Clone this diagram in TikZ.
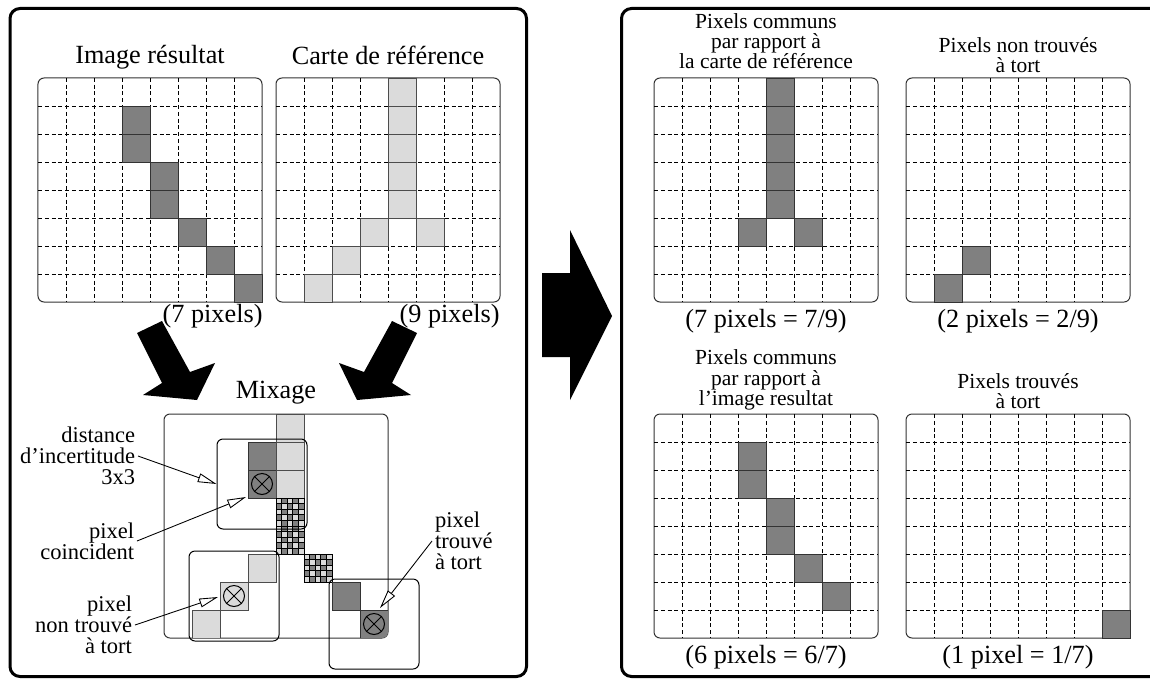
\documentclass[tikz,border=0pt]{standalone}
\usepackage{fontspec}
\setmainfont{Liberation Serif}
\usetikzlibrary{arrows.meta, positioning}

\definecolor{pixdark}{gray}{0.5}
\definecolor{pixlight}{gray}{0.86}

% empty 8x8 grid with its frame; #1 name, (#2,#3) top-left corner
\newcommand{\pixgrid}[3]{%
  \node[gridbox] (#1) at (#2+112,#3+112) {};
  \foreach \k in {1,...,7}{
    \draw[gridline] (#2+28*\k,#3) -- (#2+28*\k,#3+224);
    \draw[gridline] (#2,#3+28*\k) -- (#2+224,#3+28*\k);
  }%
}
% filled pixels; #1 style, (#2,#3) grid corner, #4 list col/row
\newcommand{\pixcells}[4]{%
  \foreach \pc/\pr in {#4}
    \draw[#1] (#2+28*\pc,#3+28*\pr) rectangle ++(28,28);%
}
% common pixel (checkered); (#1,#2) top-left corner
\newcommand{\checkpix}[2]{%
  \fill[pixdark] (#1,#2) rectangle ++(28,28);
  \foreach \i in {0,...,4}
    \foreach \j in {0,...,4}{
      \pgfmathtruncatemacro{\odd}{mod(\i+\j,2)}
      \ifnum\odd=0 \fill[pixlight] (#1+5.6*\i,#2+5.6*\j) rectangle ++(5.6,5.6);\fi
    }
  \foreach \i in {0,...,5}{
    \draw[line width=0.35pt] (#1+5.6*\i,#2) -- ++(0,28);
    \draw[line width=0.35pt] (#1,#2+5.6*\i) -- ++(28,0);
  }%
}

\begin{document}
\begin{tikzpicture}[x=0.4pt, y=-0.4pt,
    frame/.style={draw, line width=1.2pt, rounded corners=4pt},
    gridbox/.style={draw=black!80, line width=0.4pt, rounded corners=2.4pt, minimum size=89.6pt, inner sep=0pt},
    gridline/.style={dash pattern=on 1.6pt off 1.1pt, line width=0.35pt},
    darkpix/.style={fill=pixdark, draw=black!80, line width=0.35pt},
    lightpix/.style={fill=pixlight, draw=black!70, line width=0.35pt},
    window/.style={draw, line width=0.4pt, rounded corners=2.4pt, minimum size=36pt, inner sep=0pt},
    xpix/.style={draw, circle, line width=0.4pt, minimum size=8.4pt, inner sep=0pt},
    title/.style={font=\fontsize{10.5}{12}\selectfont, inner sep=0pt},
    head/.style={align=center, font=\fontsize{8.6}{8.1}\selectfont, inner sep=0pt},
    note/.style={font=\fontsize{9}{8.5}\selectfont, inner sep=1pt},
    callout/.style={-{Triangle[fill=white, length=7.5pt, width=3.6pt]}, line width=0.35pt}
  ]
  \useasboundingbox (0,0) rectangle (1150,679);

  % Frames
  \draw[frame] (10,8.5) rectangle (526.5,676.5);
  \draw[frame] (621.5,8.5) rectangle (1165,676.5);

  % Inputs
  \pixgrid{gres}{38}{78}
  \pixcells{darkpix}{38}{78}{3/1,3/2,4/3,4/4,5/5,6/6,7/7}
  \pixgrid{gref}{276}{78}
  \pixcells{lightpix}{276}{78}{4/0,4/1,4/2,4/3,4/4,3/5,5/5,2/6,1/7}
  \node[title] (tres) at (150,57) {Image résultat};
  \node[title] (tref) at (388,55) {Carte de référence};
  \node[title, anchor=east] (cres) at (263,316) {(7 pixels)};
  \node[title, anchor=east] (cref) at (500,316) {(9 pixels)};

  % Big arrows
  \fill (137,333) -- (162,321) -- (190,372) -- (215,363) -- (197,400) -- (143,395) -- (162,383) -- cycle;
  \fill (417,333) -- (392,321) -- (364,372) -- (339,363) -- (357,400) -- (411,395) -- (392,383) -- cycle;
  \fill (542,273) -- (570,273) -- (570,230) -- (612,316) -- (570,400) -- (570,357) -- (542,357) -- cycle;

  % Mixage
  \node[title] (tmix) at (276,393) {Mixage};
  \node[gridbox] (gmix) at (276,526) {};
  \begin{scope}
    \clip[rounded corners=2.4pt] (164,414) rectangle ++(224,224);
    \pixcells{darkpix}{164}{414}{3/1,3/2,6/6,7/7}
    \pixcells{lightpix}{164}{414}{4/0,4/1,4/2,3/5,2/6,1/7}
    \checkpix{276}{498}
    \checkpix{276}{526}
    \checkpix{304}{554}
  \end{scope}
  \node[xpix] (cx1) at (262,484) {};
  \node[xpix] (cx2) at (234,596) {};
  \node[xpix] (cx3) at (374,624) {};
  \foreach \n in {cx1,cx2,cx3}{
    \draw[line width=0.4pt] (\n.45) -- (\n.225);
    \draw[line width=0.4pt] (\n.135) -- (\n.-45);
  }
  \node[window] (win1) at (262,484) {};
  \node[window] (win2) at (234,596) {};
  \node[window] (win3) at (374,624) {};

  % Callouts
  \node[note, align=right, anchor=east] (ndist) at (138,456) {distance\\d'incertitude\\3x3};
  \node[note, align=right, anchor=east] (ncoin) at (137,541) {pixel\\coincident};
  \node[note, align=right, anchor=east] (nnon) at (135,625) {pixel\\non trouvé\\à tort};
  \node[note, align=left, anchor=west] (ntrouve) at (432,541) {pixel\\trouvé\\à tort};
  \coordinate (tcoin) at (246,497);
  \coordinate (tnon) at (218,597);
  \coordinate (ttrouve) at (380,608);
  \draw[callout] (ndist.east) -- (win1.west);
  \draw[callout] (ncoin.east) -- (tcoin);
  \draw[callout] (nnon.east) -- (tnon);
  \draw[callout] (ntrouve.west) -- (ttrouve);

  % Results
  \pixgrid{gcom}{654}{78}
  \pixcells{darkpix}{654}{78}{4/0,4/1,4/2,4/3,4/4,3/5,5/5}
  \pixgrid{gnon}{906}{78}
  \pixcells{darkpix}{906}{78}{2/6,1/7}
  \pixgrid{gcomr}{654}{414}
  \pixcells{darkpix}{654}{414}{3/1,3/2,4/3,4/4,5/5,6/6}
  \pixgrid{gfaux}{906}{414}
  \pixcells{darkpix}{906}{414}{7/7}
  \node[head] (hcom) at (766,41) {Pixels communs\\par rapport à\\la carte de référence};
  \node[head] (hnon) at (1018,55) {Pixels non trouvés\\à tort};
  \node[head] (hcomr) at (766,380) {Pixels communs\\par rapport à\\l'image resultat};
  \node[head] (hfaux) at (1018,391) {Pixels trouvés\\à tort};
  \node[title, below=2.4pt of gcom] (ccom) {(7 pixels = 7/9)};
  \node[title, below=2.4pt of gnon] (cnon) {(2 pixels = 2/9)};
  \node[title, below=2.4pt of gcomr] (ccomr) {(6 pixels = 6/7)};
  \node[title, below=2.4pt of gfaux] (cfaux) {(1 pixel = 1/7)};
\end{tikzpicture}
\end{document}
